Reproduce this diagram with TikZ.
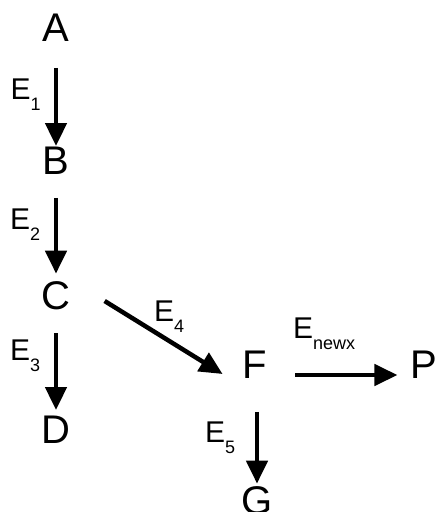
\documentclass[tikz,border=0pt]{standalone}
\usepackage{fontspec}
\setmainfont{Liberation Sans}
\usetikzlibrary{arrows.meta,calc}
\tikzset{
  vertex/.style={inner sep=0pt, font=\fontsize{40}{40}\selectfont},
  link/.style={line width=4.5pt, -{Triangle[width=21pt,length=23pt]}},
  ename/.style={inner sep=0pt, anchor=base west, font=\fontsize{30}{30}\selectfont},
}
% edge name: a capital E with a lowered, smaller index
\newcommand\edgelabel[1]{E\raisebox{-11pt}{\fontsize{18}{18}\selectfont #1}}
\begin{document}
\begin{tikzpicture}[x=1pt,y=-1pt]
  \path[use as bounding box] (0,0) rectangle (445,512);

  % states
  \node[vertex] (A) at (56,28)  {A};
  \node[vertex] (B) at (56,161) {B};
  \node[vertex] (C) at (56,296) {C};
  \node[vertex] (D) at (56,430) {D};
  \node[vertex] (F) at (255,365) {F};
  \node[vertex] (P) at (424,365) {P};
  \node[vertex] (G) at (257,501) {G};

  % transitions
  \draw[link] ($(A.south)+(0,26)$) -- ($(B.north)+(0,-1)$);
  \draw[link] ($(B.south)+(0,23)$) -- ($(C.north)+(0,-8)$);
  \draw[link] ($(C.south)+(0,23)$) -- ($(D.north)+(0,-6)$);
  \draw[link] ($(C.east)+(34,5)$) -- ($(F.west)+(-20,9)$);
  \draw[link] ($(F.east)+(28,10)$) -- ($(P.west)+(-13,10)$);
  \draw[link] ($(F.south)+(2,33)$) -- ($(G.north)+(0,-3)$);

  % transition names
  \node[ename] (e1) at (10.5,99)  {\edgelabel{1}};
  \node[ename] (e2) at (10,229)   {\edgelabel{2}};
  \node[ename] (e3) at (10,360)   {\edgelabel{3}};
  \node[ename] (e4) at (154,321)  {\edgelabel{4}};
  \node[ename] (en) at (293,338)  {\edgelabel{newx}};
  \node[ename] (e5) at (205,442)  {\edgelabel{5}};
\end{tikzpicture}
\end{document}
